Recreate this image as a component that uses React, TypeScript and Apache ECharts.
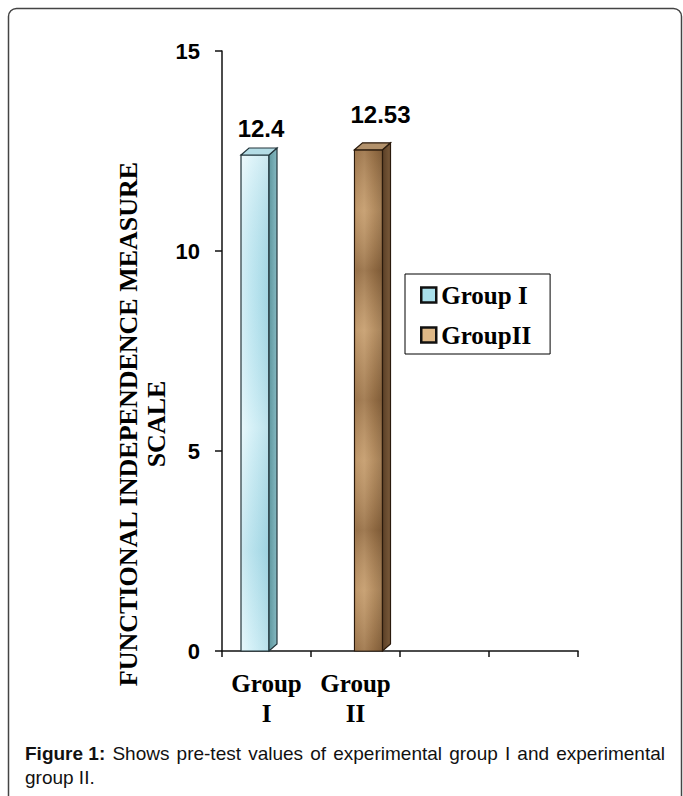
import React, { useEffect, useRef } from "react";
import * as echarts from "echarts";

// ---- data ----
const categories: string[] = ["Group\nI", "Group\nII", "", ""];
const groupIValues: (number | null)[] = [12.4, null, null, null];
const groupIIValues: (number | null)[] = [null, 12.53, null, null];
const seriesNames: string[] = ["Group I", "GroupII"];
const yMin = 0;
const yMax = 15;
const yInterval = 5;
const yTitle = "FUNCTIONAL INDEPENDENCE MEASURE\nSCALE";
const captionBold = "Figure 1:";
const captionLine1 = "Shows pre-test values of experimental group I and experimental";
const captionLine2 = "group II.";

// ---- styling ----
const SANS = '"Liberation Sans", Arial, Helvetica, sans-serif';
const SERIF = '"Liberation Serif", "Times New Roman", Times, serif';
const BAR_W = 28;
const DEPTH_X = 8;
const DEPTH_Y = 7;
const BAR_OFFSETS = [-11.5, 13];
const LABEL_DX = [6, 12];
const LABEL_DY = [27, 35];

const toData = (vals: (number | null)[]) =>
  vals.map((v, i) => (v == null ? null : [i, v])).filter((d) => d !== null) as number[][];

const palettes = [
  {
    front: [
      [0, "#e2f5fa"],
      [0.3, "#cdeef6"],
      [0.6, "#bde6f0"],
      [1, "#a8d8e4"],
    ],
    frontV: [
      [0, "rgba(255,255,255,0.4)"],
      [0.3, "rgba(120,190,210,0.12)"],
      [0.55, "rgba(255,255,255,0.25)"],
      [0.8, "rgba(110,180,200,0.18)"],
      [1, "rgba(255,255,255,0.2)"],
    ],
    side: [
      [0, "#5f979f"],
      [1, "#86b9c1"],
    ],
    top: "#b4dde6",
    stroke: "#22343a",
    legend: "#a9dfea",
  },
  {
    front: [
      [0, "#b48a5c"],
      [0.35, "#c29a6c"],
      [0.7, "#a87f52"],
      [1, "#8e6a43"],
    ],
    frontV: [
      [0, "rgba(80,50,25,0.25)"],
      [0.12, "rgba(230,200,160,0.2)"],
      [0.24, "rgba(80,50,25,0.3)"],
      [0.36, "rgba(230,200,160,0.25)"],
      [0.5, "rgba(80,50,25,0.25)"],
      [0.62, "rgba(230,200,160,0.2)"],
      [0.76, "rgba(80,50,25,0.3)"],
      [0.88, "rgba(230,200,160,0.2)"],
      [1, "rgba(80,50,25,0.25)"],
    ],
    side: [
      [0, "#5a3f26"],
      [1, "#7a5a3a"],
    ],
    top: "#b2916b",
    stroke: "#2a1a0c",
    legend: "#deb887",
  },
];

const grad = (x2: number, y2: number, stops: any[]) =>
  new echarts.graphic.LinearGradient(
    0,
    0,
    x2,
    y2,
    stops.map((s) => ({ offset: s[0], color: s[1] }))
  );

function renderBar(params: any, api: any) {
  const cat = api.value(0);
  const val = api.value(1);
  const topPt = api.coord([cat, val]);
  const basePt = api.coord([cat, 0]);
  const si = params.seriesIndex;
  const pal = palettes[si];
  const cx = topPt[0] + BAR_OFFSETS[si];
  const x0 = cx - BAR_W / 2;
  const x1 = cx + BAR_W / 2;
  const yT = topPt[1];
  const yB = basePt[1];
  const lw = 1.2;
  return {
    type: "group",
    children: [
      {
        type: "rect",
        shape: { x: x0, y: yT, width: BAR_W, height: yB - yT },
        style: { fill: grad(1, 0, pal.front), stroke: pal.stroke, lineWidth: lw },
      },
      {
        type: "rect",
        shape: { x: x0 + 1, y: yT + 1, width: BAR_W - 2, height: yB - yT - 2 },
        style: { fill: grad(0, 1, pal.frontV) },
        silent: true,
      },
      {
        type: "polygon",
        shape: {
          points: [
            [x1, yT],
            [x1 + DEPTH_X, yT - DEPTH_Y],
            [x1 + DEPTH_X, yB - DEPTH_Y],
            [x1, yB],
          ],
        },
        style: { fill: grad(1, 0, pal.side), stroke: pal.stroke, lineWidth: lw },
      },
      {
        type: "polygon",
        shape: {
          points: [
            [x0, yT],
            [x0 + DEPTH_X, yT - DEPTH_Y],
            [x1 + DEPTH_X, yT - DEPTH_Y],
            [x1, yT],
          ],
        },
        style: { fill: pal.top, stroke: pal.stroke, lineWidth: lw },
      },
      {
        type: "text",
        style: {
          text: String(val),
          x: cx + LABEL_DX[si],
          y: yT - LABEL_DY[si],
          font: `bold 24px ${SANS}`,
          fill: "#000",
          align: "center",
          verticalAlign: "middle",
          textAlign: "center",
          textVerticalAlign: "middle",
        },
      },
    ],
  };
}

function buildCaption(): any[] {
  const fontSize = 19;
  const boldFont = `bold ${fontSize}px ${SANS}`;
  const normFont = `${fontSize}px ${SANS}`;
  const left = 25;
  const right = 665;
  const y1 = 753;
  const y2 = 777;
  const canvas = document.createElement("canvas");
  const ctx = canvas.getContext("2d") as CanvasRenderingContext2D;
  const words: { t: string; f: string; w: number }[] = [];
  ctx.font = boldFont;
  words.push({ t: captionBold, f: boldFont, w: ctx.measureText(captionBold).width });
  ctx.font = normFont;
  captionLine1.split(" ").forEach((t) => {
    words.push({ t, f: normFont, w: ctx.measureText(t).width });
  });
  const total = words.reduce((a, b) => a + b.w, 0);
  const gap = (right - left - total) / (words.length - 1);
  const els: any[] = [];
  let x = left;
  words.forEach((wd) => {
    els.push({
      type: "text",
      x,
      y: y1,
      style: {
        text: wd.t,
        font: wd.f,
        fill: "#111",
        align: "left",
        verticalAlign: "middle",
        textAlign: "left",
        textVerticalAlign: "middle",
      },
    });
    x += wd.w + gap;
  });
  els.push({
    type: "text",
    x: left,
    y: y2,
    style: {
      text: captionLine2,
      font: normFont,
      fill: "#111",
      align: "left",
      verticalAlign: "middle",
      textAlign: "left",
      textVerticalAlign: "middle",
    },
  });
  return els;
}

export default function App() {
  const ref = useRef<HTMLDivElement>(null);
  useEffect(() => {
    document.body.style.margin = "0";
    if (!ref.current) return;
    const chart = echarts.init(ref.current, null, { renderer: "svg" });
    const seriesData = [toData(groupIValues), toData(groupIIValues)];
    chart.setOption({
      animation: false,
      backgroundColor: "#ffffff",
      grid: { left: 222, right: 105, top: 51, bottom: 145, containLabel: false },
      xAxis: {
        type: "category",
        data: categories,
        boundaryGap: true,
        axisLine: { lineStyle: { color: "#111", width: 1.5 } },
        axisTick: { show: true, alignWithLabel: false, interval: 0, length: 6, lineStyle: { color: "#111", width: 1.5 } },
        axisLabel: {
          interval: 0,
          margin: 17,
          color: "#000",
          fontFamily: SERIF,
          fontWeight: "bold",
          fontSize: 25,
          lineHeight: 30,
        },
        splitLine: { show: false },
      },
      yAxis: {
        type: "value",
        min: yMin,
        max: yMax,
        interval: yInterval,
        axisLine: { show: true, lineStyle: { color: "#111", width: 1.5 } },
        axisTick: { show: true, length: 7, lineStyle: { color: "#111", width: 1.5 } },
        axisLabel: {
          margin: 22,
          color: "#000",
          fontFamily: SANS,
          fontWeight: "bold",
          fontSize: 22,
        },
        splitLine: { show: false },
      },
      legend: {
        orient: "vertical",
        left: 405,
        top: 274,
        padding: [8, 19, 6, 15],
        itemGap: 14,
        itemWidth: 15,
        itemHeight: 15,
        borderColor: "#000",
        borderWidth: 1,
        backgroundColor: "#fff",
        icon: "rect",
        selectedMode: false,
        textStyle: {
          color: "#000",
          fontFamily: SERIF,
          fontWeight: "bold",
          fontSize: 25,
          lineHeight: 26,
          padding: [0, 0, 0, 0],
        },
        data: seriesNames.map((n, i) => ({
          name: n,
          itemStyle: { color: palettes[i].legend, borderColor: "#111", borderWidth: 2.5 },
        })),
      },
      series: seriesNames.map((n, i) => ({
        type: "custom",
        name: n,
        data: seriesData[i],
        encode: { x: 0, y: 1 },
        itemStyle: { color: palettes[i].legend },
        renderItem: renderBar,
        z: 3,
      })),
      graphic: [
        {
          type: "rect",
          shape: { x: 8.5, y: 8.5, width: 673, height: 820, r: 8 },
          style: { fill: "none", stroke: "#444", lineWidth: 1.5 },
          z: -1,
          silent: true,
        },
        {
          type: "text",
          x: 142,
          y: 424,
          rotation: Math.PI / 2,
          style: {
            text: yTitle,
            font: `bold 26px ${SERIF}`,
            lineHeight: 28,
            fill: "#000",
            align: "center",
            verticalAlign: "middle",
            textAlign: "center",
            textVerticalAlign: "middle",
          },
        },
        ...buildCaption(),
      ],
    });
    return () => chart.dispose();
  }, []);
  return <div ref={ref} style={{ width: 683, height: 796 }} />;
}
